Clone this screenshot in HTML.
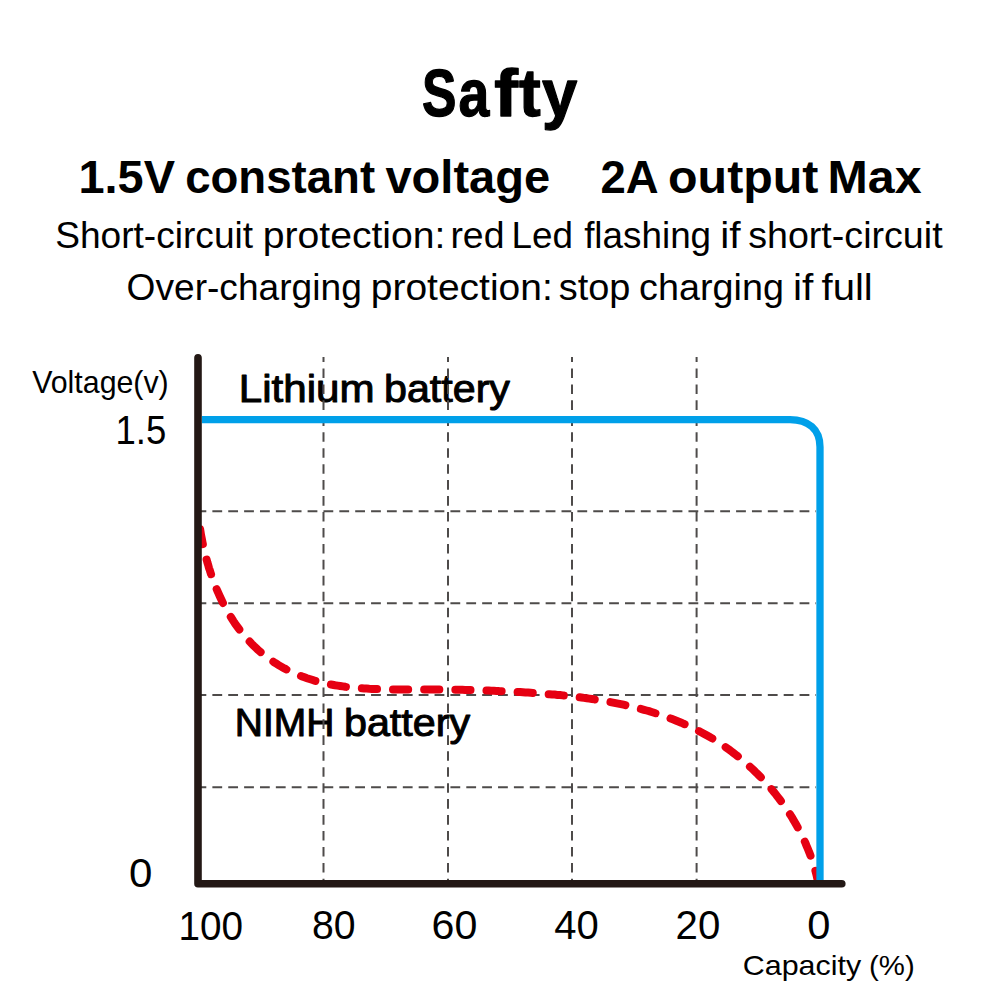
<!DOCTYPE html>
<html><head><meta charset="utf-8"><style>
html,body{margin:0;padding:0;background:#fff;}
svg{display:block;}
text{font-family:"Liberation Sans",sans-serif;fill:#000;}
</style></head><body>
<svg width="1000" height="1000" viewBox="0 0 1000 1000">
<rect width="1000" height="1000" fill="#fff"/>
<text transform="translate(421.97 116.00) scale(0.7703 1)" font-size="67" font-weight="bold" stroke="#000" stroke-width="1.3" stroke-linejoin="round">S</text>
<text transform="translate(458.39 116.00) scale(0.8277 1)" font-size="67" font-weight="bold" stroke="#000" stroke-width="1.3" stroke-linejoin="round">a</text>
<text transform="translate(494.29 116.00) scale(1.0629 1)" font-size="67" font-weight="bold" stroke="#000" stroke-width="1.3" stroke-linejoin="round">f</text>
<text transform="translate(519.00 116.00) scale(0.9724 1)" font-size="67" font-weight="bold" stroke="#000" stroke-width="1.3" stroke-linejoin="round">t</text>
<text transform="translate(542.00 116.00) scale(0.9462 1)" font-size="67" font-weight="bold" stroke="#000" stroke-width="1.3" stroke-linejoin="round">y</text>
<text transform="translate(78.48 192.80) scale(0.9986 1)" font-size="47" font-weight="bold">1.5V</text>
<text transform="translate(185.18 192.80) scale(0.9698 1)" font-size="47" font-weight="bold">constant</text>
<text transform="translate(385.43 192.80) scale(1.0014 1)" font-size="47" font-weight="bold">voltage</text>
<text transform="translate(600.54 192.80) scale(0.9679 1)" font-size="47" font-weight="bold">2A</text>
<text transform="translate(668.07 192.80) scale(1.0291 1)" font-size="47" font-weight="bold">output</text>
<text transform="translate(827.52 192.80) scale(1.0286 1)" font-size="47" font-weight="bold">Max</text>
<text transform="translate(55.14 247.60) scale(0.9846 1)" font-size="37.7" font-weight="normal">Short-circuit</text>
<text transform="translate(262.76 247.60) scale(1.0381 1)" font-size="37.7" font-weight="normal">protection:</text>
<text transform="translate(450.38 247.60) scale(0.9922 1)" font-size="37.7" font-weight="normal">red</text>
<text transform="translate(511.55 247.60) scale(0.9772 1)" font-size="37.7" font-weight="normal">Led</text>
<text transform="translate(584.13 247.60) scale(0.9776 1)" font-size="37.7" font-weight="normal">flashing</text>
<text transform="translate(720.25 247.60) scale(1.0800 1)" font-size="37.7" font-weight="normal">if</text>
<text transform="translate(748.17 247.60) scale(0.9984 1)" font-size="37.7" font-weight="normal">short-circuit</text>
<text transform="translate(126.54 300.40) scale(0.9855 1)" font-size="37.7" font-weight="normal">Over-charging</text>
<text transform="translate(370.77 300.40) scale(1.0340 1)" font-size="37.7" font-weight="normal">protection:</text>
<text transform="translate(558.76 300.40) scale(1.0056 1)" font-size="37.7" font-weight="normal">stop</text>
<text transform="translate(639.09 300.40) scale(1.0013 1)" font-size="37.7" font-weight="normal">charging</text>
<text transform="translate(792.90 300.40) scale(1.0800 1)" font-size="37.7" font-weight="normal">if</text>
<text transform="translate(821.50 300.40) scale(1.0632 1)" font-size="37.7" font-weight="normal">full</text>
<text transform="translate(32.20 392.80) scale(0.9631 1)" font-size="31.5" font-weight="normal">Voltage(v)</text>
<text transform="translate(115.48 443.50) scale(0.8911 1)" font-size="41" font-weight="normal">1.5</text>
<text transform="translate(129.02 887.30) scale(1.0391 1)" font-size="40.5" font-weight="normal">0</text>
<text transform="translate(178.50 939.60) scale(0.9558 1)" font-size="40.5" font-weight="normal">100</text>
<text transform="translate(312.03 939.30) scale(0.9685 1)" font-size="40.5" font-weight="normal">80</text>
<text transform="translate(431.54 939.30) scale(1.0167 1)" font-size="40.5" font-weight="normal">60</text>
<text transform="translate(554.20 939.30) scale(0.9877 1)" font-size="40.5" font-weight="normal">40</text>
<text transform="translate(675.59 939.30) scale(0.9925 1)" font-size="40.5" font-weight="normal">20</text>
<text transform="translate(807.33 939.30) scale(1.0288 1)" font-size="40.5" font-weight="normal">0</text>
<text transform="translate(742.78 974.70) scale(1.0682 1)" font-size="28.5" font-weight="normal">Capacity</text>
<text transform="translate(869.04 974.70) scale(1.0305 1)" font-size="28.5" font-weight="normal">(%)</text>
<text transform="translate(238.77 402.20) scale(1.0800 1)" font-size="39" font-weight="normal" stroke="#000" stroke-width="1.0" stroke-linejoin="round">Lithium</text>
<text transform="translate(384.04 402.20) scale(1.0562 1)" font-size="39" font-weight="normal" stroke="#000" stroke-width="1.0" stroke-linejoin="round">battery</text>
<text transform="translate(234.77 736.10) scale(1.0002 1)" font-size="39" font-weight="normal" stroke="#000" stroke-width="1.0" stroke-linejoin="round">NIMH</text>
<text transform="translate(343.94 736.10) scale(1.0588 1)" font-size="39" font-weight="normal" stroke="#000" stroke-width="1.0" stroke-linejoin="round">battery</text>
<g stroke="#4e4b4a" stroke-width="2" fill="none">
<line x1="323.5" y1="357" x2="323.5" y2="880" stroke-dasharray="9.6 6.35" stroke-dashoffset="4.5"/>
<line x1="448" y1="357" x2="448" y2="880" stroke-dasharray="9.6 6.35" stroke-dashoffset="4.5"/>
<line x1="572" y1="357" x2="572" y2="880" stroke-dasharray="9.6 6.35" stroke-dashoffset="4.5"/>
<line x1="696.6" y1="357" x2="696.6" y2="880" stroke-dasharray="9.6 6.35" stroke-dashoffset="4.5"/>
<line x1="196.5" y1="511.3" x2="816" y2="511.3" stroke-dasharray="9.8 6.07"/>
<line x1="196.5" y1="603.2" x2="816" y2="603.2" stroke-dasharray="9.8 6.07"/>
<line x1="196.5" y1="694.9" x2="816" y2="694.9" stroke-dasharray="9.8 6.07"/>
<line x1="196.5" y1="787.3" x2="816" y2="787.3" stroke-dasharray="9.8 6.07"/>
</g>
<path d="M199.8 527.2 200.2 529.7 200.6 532.2 201.0 534.8 201.5 537.3 202.0 539.8 202.5 542.4 203.0 544.9 203.6 547.5 204.2 550.0 204.8 552.6 205.4 555.1 206.1 557.7 206.8 560.3 207.5 562.8 208.3 565.4 209.0 568.0 209.9 570.5 210.7 573.1 211.5 575.6 212.4 578.1 213.3 580.7 214.3 583.2 215.3 585.7 216.3 588.2 217.3 590.7 218.4 593.1 219.5 595.6 220.6 598.0 221.8 600.5 222.9 602.9 224.2 605.3 225.4 607.6 226.7 610.0 228.0 612.3 229.4 614.6 230.8 616.9 232.2 619.2 233.6 621.4 235.1 623.6 236.7 625.8 238.2 627.9 239.8 630.1 241.4 632.2 243.1 634.2 244.8 636.2 246.5 638.2 248.3 640.2 250.1 642.1 251.9 644.0 253.8 645.9 255.7 647.7 257.6 649.5 259.6 651.2 261.6 652.9 263.6 654.6 265.7 656.2 267.7 657.8 269.8 659.3 272.0 660.8 274.2 662.3 276.4 663.7 278.6 665.1 280.8 666.4 283.1 667.7 285.4 668.9 287.7 670.1 290.1 671.3 292.4 672.4 294.8 673.5 297.2 674.5 299.6 675.5 302.1 676.4 304.5 677.3 307.0 678.2 309.5 679.0 312.0 679.8 314.5 680.6 317.0 681.3 319.5 681.9 322.1 682.6 324.6 683.2 327.2 683.7 329.8 684.3 332.4 684.7 335.0 685.2 337.6 685.6 340.2 686.0 342.8 686.4 345.4 686.8 348.1 687.1 350.7 687.4 353.3 687.6 356.0 687.9 358.6 688.1 361.3 688.3 364.0 688.5 366.6 688.6 369.3 688.8 372.0 688.9 374.7 689.0 377.4 689.1 380.0 689.2 382.7 689.3 385.4 689.3 388.1 689.4 390.8 689.4 393.5 689.4 396.2 689.4 398.9 689.4 401.6 689.4 404.2 689.4 406.9 689.4 409.6 689.4 412.3 689.4 415.0 689.4 417.6 689.4 420.3 689.4 423.0 689.4 425.6 689.4 428.3 689.4 430.9 689.4 433.6 689.4 436.2 689.4 438.9 689.5 441.5 689.5 444.1 689.5 446.8 689.6 449.4 689.6 452.0 689.6 454.7 689.7 457.3 689.7 459.9 689.8 462.5 689.8 465.1 689.9 467.7 690.0 470.4 690.0 473.0 690.1 475.6 690.2 478.2 690.3 480.8 690.3 483.4 690.4 486.1 690.5 488.7 690.6 491.3 690.7 493.9 690.8 496.5 690.9 499.1 691.1 501.8 691.2 504.4 691.3 507.0 691.4 509.6 691.6 512.3 691.7 514.9 691.8 517.6 692.0 520.2 692.1 522.8 692.3 525.5 692.5 528.1 692.6 530.8 692.8 533.4 693.0 536.1 693.2 538.8 693.3 541.4 693.5 544.1 693.7 546.7 694.0 549.4 694.2 552.1 694.4 554.7 694.6 557.4 694.9 560.1 695.1 562.7 695.4 565.4 695.7 568.1 696.0 570.7 696.3 573.4 696.6 576.0 696.9 578.7 697.2 581.4 697.5 584.0 697.9 586.7 698.2 589.3 698.6 592.0 699.0 594.6 699.4 597.3 699.8 599.9 700.2 602.5 700.7 605.2 701.1 607.8 701.6 610.4 702.1 613.0 702.6 615.6 703.1 618.2 703.6 620.9 704.1 623.5 704.7 626.0 705.3 628.6 705.9 631.2 706.5 633.8 707.1 636.4 707.8 638.9 708.4 641.5 709.1 644.0 709.8 646.6 710.5 649.1 711.2 651.6 712.0 654.1 712.8 656.7 713.6 659.2 714.4 661.7 715.2 664.1 716.1 666.6 717.0 669.1 717.9 671.5 718.8 674.0 719.7 676.4 720.7 678.9 721.7 681.3 722.7 683.7 723.8 686.1 724.8 688.5 725.9 690.8 727.0 693.2 728.1 695.6 729.3 697.9 730.5 700.2 731.7 702.5 732.9 704.8 734.2 707.1 735.5 709.4 736.8 711.7 738.1 713.9 739.5 716.2 740.9 718.4 742.3 720.6 743.8 722.8 745.2 725.0 746.7 727.1 748.2 729.3 749.8 731.4 751.4 733.5 753.0 735.6 754.6 737.7 756.2 739.8 757.9 741.8 759.6 743.8 761.3 745.8 763.0 747.8 764.8 749.8 766.6 751.8 768.4 753.7 770.2 755.6 772.1 757.5 773.9 759.4 775.8 761.2 777.7 763.1 779.7 764.9 781.6 766.7 783.6 768.4 785.6 770.2 787.6 771.9 789.6 773.6 791.7 775.3 793.7 776.9 795.8 778.5 797.9 780.1 800.0 781.7 802.2 783.3 804.3 784.8 806.5 786.3 808.7 787.8 810.9 789.2 813.1 790.7 815.4 792.1 817.6 793.4 819.9 794.8 822.2 796.1 824.5 797.4 826.8 798.6 829.1 799.9 831.5 801.1 833.8 802.2 836.2 803.4 838.6 804.5 841.0 805.6 843.4 806.6 845.9 807.6 848.3 808.6 850.7 809.6 853.2 810.5 855.7 811.4 858.2 812.3 860.7 813.1 863.2 813.9 865.7 814.6 868.2 815.4 870.8 816.1 873.3 816.7 875.9 817.3 878.5 817.9 881.1" fill="none" stroke="#e60012" stroke-width="8" stroke-linecap="round" stroke-dasharray="15.2 15.97" stroke-dashoffset="-2.0"/>
<path d="M202 419.7 H790 C808 419.7 820 429 820 447 V880" fill="none" stroke="#00a0e9" stroke-width="7.3"/>
<path d="M198 357.8 V883.8 H841.8" fill="none" stroke="#231815" stroke-width="7.6" stroke-linecap="round" stroke-linejoin="round"/>
</svg>
</body></html>
